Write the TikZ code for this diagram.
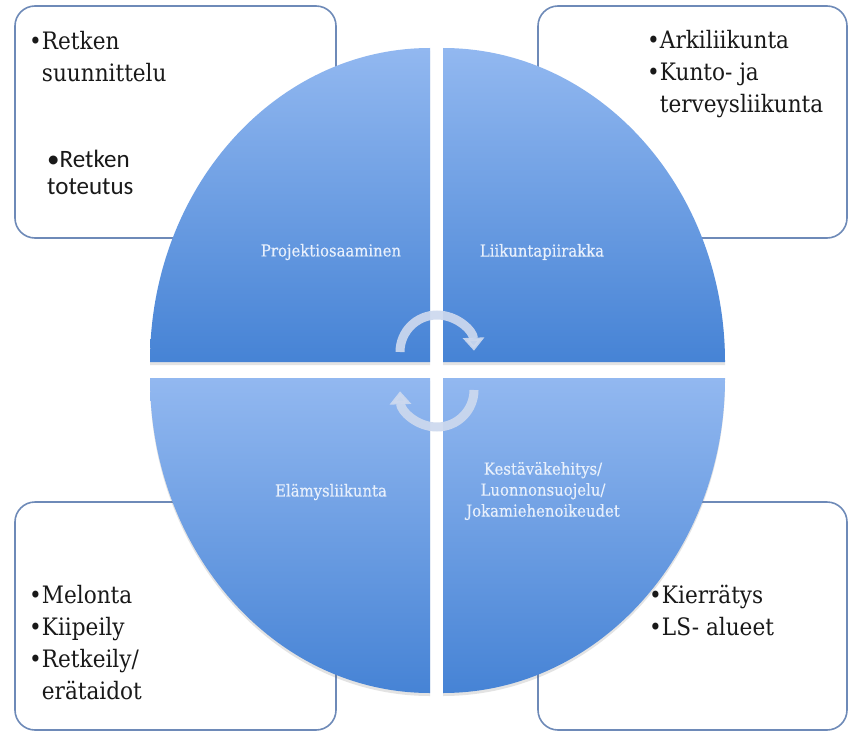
\documentclass[tikz,border=0pt]{standalone}
\usepackage{fontspec}
\setmainfont{DejaVu Serif}[FakeStretch=0.9]
\newfontfamily\sansf{Carlito}
\newfontfamily\lblfont{DejaVu Serif}[FakeStretch=0.9,FakeBold=0.35]
\usetikzlibrary{arrows.meta,shadows}
\definecolor{qtop}{RGB}{146,184,240}
\definecolor{qbot}{RGB}{70,131,213}
\definecolor{boxline}{RGB}{110,138,184}
\definecolor{lbl}{RGB}{232,240,252}
\definecolor{arrowc}{RGB}{205,217,238}
\definecolor{txt}{RGB}{25,25,25}
\tikzset{
  cbox/.style={draw=boxline, line width=1.6pt, rounded corners=20pt, fill=white},
  quad/.style={top color=qtop, bottom color=qbot, draw=none,
    drop shadow={shadow xshift=0pt, shadow yshift=-3pt, opacity=0.18, fill=black!60}},
  qlabel/.style={text=lbl, font=\lblfont\fontsize{16.5}{21}\selectfont, align=center, inner sep=0pt},
  item/.style={text=txt, font=\fontsize{24}{32}\selectfont, anchor=base west, inner sep=0pt},
  sitem/.style={text=txt, font=\sansf\fontsize{25}{28}\selectfont, anchor=base west, inner sep=0pt},
  cyc/.style={draw=arrowc, line width=9pt, -{Triangle[width=21pt,length=13pt]}, opacity=0.92},
}
\begin{document}
\begin{tikzpicture}[x=1pt,y=-1pt]
\useasboundingbox (0,0) rectangle (848,733);
\fill[white] (0,0) rectangle (848,733);
% corner boxes
\draw[cbox] (15,6) rectangle (336,238);
\draw[cbox] (538,6) rectangle (847,238);
\draw[cbox] (15,502) rectangle (336,730);
\draw[cbox] (538,502) rectangle (847,730);
% box texts
\node[item] (a1) at (29,50) {•\begin{tabular}[t]{@{}l@{}}Retken\\suunnittelu\end{tabular}};
\node[sitem] (a2) at (47,167) {\begin{tabular}[t]{@{}l@{}}•Retken\\toteutus\end{tabular}};
\node[item] (b1) at (647,49) {•Arkiliikunta};
\node[item] (b2) at (647,81) {•\begin{tabular}[t]{@{}l@{}}Kunto- ja\\terveysliikunta\end{tabular}};
\node[item] (c1) at (29,603) {•Melonta};
\node[item] (c2) at (29,635) {•Kiipeily};
\node[item] (c3) at (29,667) {•\begin{tabular}[t]{@{}l@{}}Retkeily/\\erätaidot\end{tabular}};
\node[item] (d1) at (649,603) {•Kierrätys};
\node[item] (d2) at (649,635) {•LS- alueet};
% quadrants
\path[quad] (430,362) -- (150,362) arc[start angle=180, end angle=90, x radius=280pt, y radius=314pt] -- cycle;
\path[quad] (443,362) -- (443,48) arc[start angle=90, end angle=0, x radius=282pt, y radius=314pt] -- cycle;
\path[quad] (430,378) -- (430,693) arc[start angle=270, end angle=180, x radius=280pt, y radius=315pt] -- cycle;
\path[quad] (443,378) -- (725,378) arc[start angle=0, end angle=-90, x radius=282pt, y radius=315pt] -- cycle;
% quadrant labels
\node[qlabel] (lp) at (331,252) {Projektiosaaminen};
\node[qlabel] (ll) at (542,252) {Liikuntapiirakka};
\node[qlabel] (le) at (331,492) {Elämysliikunta};
\node[qlabel] (lk) at (543,491) {Kestäväkehitys/\\Luonnonsuojelu/\\Jokamiehenoikeudet};
% cycle arrows
\coordinate (t0) at (400,352);
\coordinate (b0) at (474,390);
\draw[cyc] (t0) arc[start angle=180, end angle=2, radius=37pt];
\draw[cyc] (b0) arc[start angle=0, end angle=-178, radius=37pt];
\end{tikzpicture}
\end{document}
